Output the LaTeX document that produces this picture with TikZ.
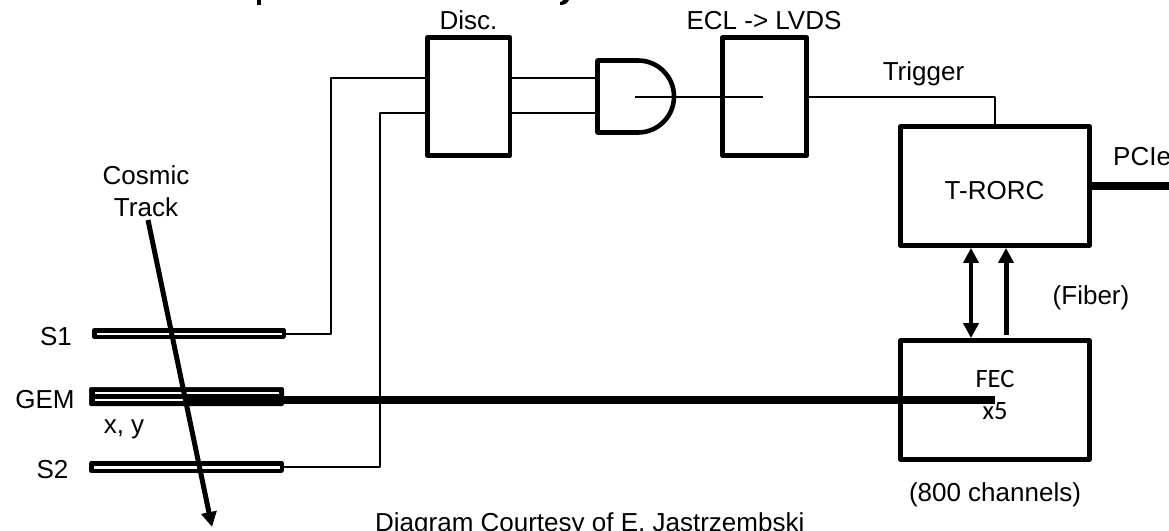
\documentclass[tikz,border=0pt]{standalone}
\usepackage{fontspec}
\setmainfont{Liberation Sans}
\newfontfamily\fecfont{Carlito}
\usetikzlibrary{arrows.meta}
\tikzset{
 x=1pt,y=-1pt,
 box/.style={draw,line width=4.6pt,line join=round,inner sep=0pt,outer sep=0pt},
 thin wire/.style={line width=2pt,line join=round},
 thick wire/.style={line width=7.5pt},
 fat arrow/.style={line width=5pt,-{Triangle[length=15pt,width=15pt]}},
 fat both/.style={line width=4.6pt,{Triangle[length=15pt,width=15pt]}-{Triangle[length=15pt,width=15pt]}},
 lab/.style={font=\fontsize{26}{32}\selectfont,inner sep=0pt,anchor=base},
 feclab/.style={font=\fontsize{26.5}{32}\selectfont\fecfont,inner sep=0pt,anchor=base},
 plate/.style={box,line width=4.5pt}
}
\begin{document}
\begin{tikzpicture}
\useasboundingbox (0,0) rectangle (1169,530);
\clip (0,0) rectangle (1169,530);
% boxes
\node[box,minimum width=82.5pt,minimum height=118pt] (disc) at (468.75,96.5) {};
\node[box,minimum width=84pt,minimum height=118pt] (ecl) at (764.5,96.5) {};
\node[box,minimum width=189pt,minimum height=119pt] (trorc) at (995,186) {};
\node[box,minimum width=189pt,minimum height=119pt] (fec) at (995,400) {};
% plates
\node[plate,minimum width=189.5pt,minimum height=6.5pt] (s1) at (189,333.5) {};
\node[plate,minimum width=190.5pt,minimum height=7.5pt] (s2) at (186.5,467) {};
\node[draw,fill,rounded corners=2pt,line width=0.5pt,inner sep=0pt,outer sep=0pt,minimum width=194.5pt,minimum height=18.5pt] (gem) at (186.5,396.5) {};
\draw[white,line width=1.6pt] (95,392.7) -- (279,392.7);
\draw[white,line width=1.6pt] (95,400) -- (279,400);
% AND gate
\coordinate (gatea) at (597.5,78);
\coordinate (gateb) at (597.5,113);
\coordinate (gatec) at (635,96.5);
\draw[line width=4.6pt,line join=round] (597.5,60.5) -- (638,60.5) arc[start angle=-90,end angle=90,radius=36] -- (597.5,132.5) -- cycle;
% thin wires
\coordinate (bend1) at (331,78);
\coordinate (bend2) at (380,113);
\coordinate (eclmid) at (763,96.5);
\draw[thin wire] (s1.east) -| (bend1) -- (disc.west |- bend1);
\draw[thin wire] (s2.east) -| (bend2) -- (disc.west |- bend2);
\draw[thin wire] (disc.east |- gatea) -- (gatea);
\draw[thin wire] (disc.east |- gateb) -- (gateb);
\draw[thin wire] (gatec) -- (eclmid);
\draw[thin wire] (ecl.east) -| (trorc.north);
% thick wires
\coordinate (gemtap) at (185,400);
\coordinate (pcieend) at (1169,186);
\draw[thick wire] (gemtap) -- (gemtap -| fec.center);
\draw[thick wire] (trorc.east) -- (pcieend);
% track
\coordinate (tracktop) at (148,220);
\coordinate (trackend) at (212,527);
\draw[fat arrow] (tracktop) -- (trackend);
% fibres
\draw[fat both,shorten >=2.4pt,shorten <=2.4pt] ([xshift=-24pt]trorc.south) -- ([xshift=-24pt]fec.north);
\draw[fat arrow,shorten >=2.4pt,shorten <=5.5pt] ([xshift=11pt]fec.north) -- ([xshift=11pt]trorc.south);
% labels
\node[lab] (ldisc) at (468.5,29) {Disc.};
\node[lab] (lecl) at (764,29) {ECL -> LVDS};
\node[lab] (ltrig) at (923.5,80) {Trigger};
\node[lab,anchor=base west] (lpcie) at (1113,165) {PCIe};
\node[lab] (ltr) at (994.5,199) {T-RORC};
\node[lab] (lfib) at (1091,304) {(Fiber)};
\node[lab] (lch) at (995,501) {(800 channels)};
\node[lab,align=center,anchor=center] (ltrack) at (146,191) {Cosmic\\Track};
\node[lab] (ls1) at (56,345) {S1};
\node[lab] (lgem) at (45,408) {GEM};
\node[lab] (lxy) at (124,433) {x, y};
\node[lab] (ls2) at (52.5,478) {S2};
\node[feclab] (lfec) at (995,387) {FEC};
\node[feclab] (lx5) at (995,419) {x5};
\node[lab,anchor=base west] (lcourtesy) at (375,531.6) {Diagram Courtesy of E. Jastrzembski};
% clipped descenders of the cut-off title
\fill (256.5,0) rectangle (261,5);
\fill (563,0) -- (569,0) .. controls (567,4) and (564,5) .. (560,5) -- (560,2) .. controls (562,2) and (563,1) .. (563,0) -- cycle;
\end{tikzpicture}
\end{document}
